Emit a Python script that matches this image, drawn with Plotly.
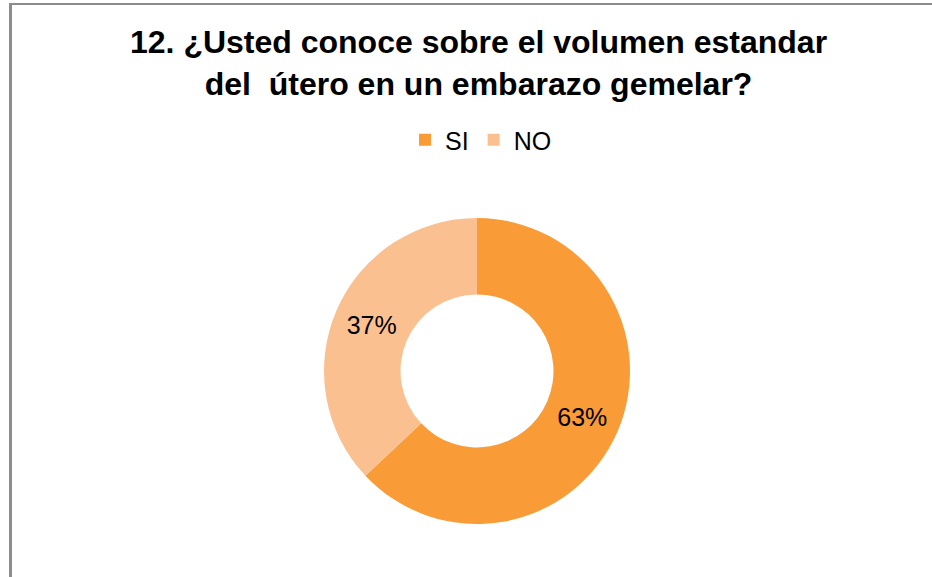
import plotly.graph_objects as go

labels = ["SI", "NO"]
values = [63, 37]
colors = ["#F99B36", "#FAC090"]
title_lines = ["12. ¿Usted conoce sobre el volumen estandar", "del\u00a0 útero en un embarazo gemelar?"]

W, H = 932, 577
cx, cy, r = 477, 371, 153

fig = go.Figure(go.Pie(
    labels=labels, values=values, hole=0.5, sort=False, direction="clockwise", rotation=0,
    marker=dict(colors=colors, line=dict(width=0)),
    textinfo="percent", texttemplate="%{percent:.0%}", textposition="inside",
    insidetextorientation="horizontal",
    textfont=dict(family="Liberation Sans, Arial", size=25, color="#000000"),
    domain=dict(x=[(cx - r) / W, (cx + r) / W], y=[(H - cy - r) / H, (H - cy + r) / H]),
    hoverinfo="label+percent",
))

fig.update_layout(
    width=W, height=H, margin=dict(l=0, r=0, t=0, b=0),
    paper_bgcolor="white", plot_bgcolor="white",
    showlegend=True,
    legend=dict(orientation="h", x=481 / W, xanchor="center", y=(H - 140) / H, yanchor="middle",
                font=dict(family="Liberation Sans, Arial", size=25, color="#000000"),
                itemwidth=30, tracegroupgap=0),
    annotations=[dict(text="<b>" + "<br>".join(title_lines) + "</b>", x=478 / W, y=(H - 63) / H,
                      xref="paper", yref="paper", xanchor="center", yanchor="middle", showarrow=False,
                      font=dict(family="Liberation Sans, Arial", size=32, color="#000000"))],
    shapes=[
        dict(type="line", xref="paper", yref="paper", x0=10.5 / W, x1=10.5 / W, y0=0, y1=(H - 3) / H,
             line=dict(color="#8C8C8C", width=3)),
        dict(type="line", xref="paper", yref="paper", x0=9 / W, x1=1, y0=(H - 4) / H, y1=(H - 4) / H,
             line=dict(color="#8C8C8C", width=2)),
    ],
)

fig.write_html("out.html")
